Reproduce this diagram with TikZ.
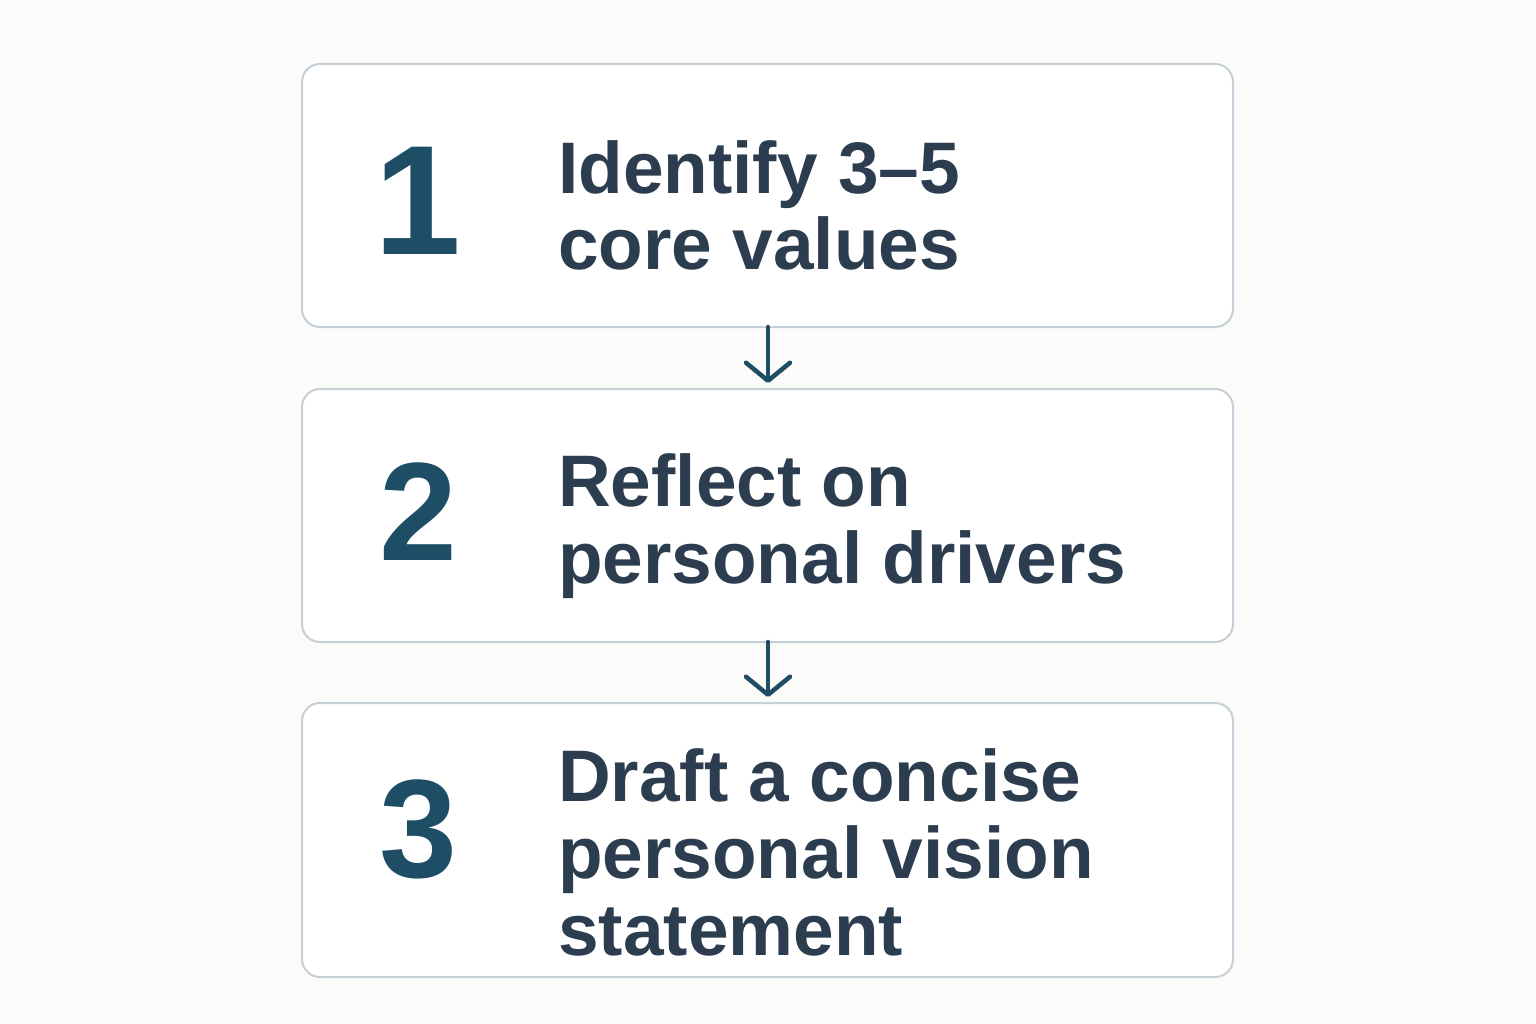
\documentclass[tikz,border=0pt]{standalone}
\usepackage{fontspec}
\setmainfont{Liberation Sans}
\usetikzlibrary{arrows.meta}
\definecolor{bgc}{HTML}{FBFBF9}
\definecolor{numc}{HTML}{1E4D66}
\definecolor{txtc}{HTML}{2B3D4F}
\definecolor{brdc}{HTML}{C5CFD8}
\tikzset{
  stepbox/.style={draw=brdc, line width=2pt, rounded corners=18pt, fill=white},
  numtxt/.style={text=numc, font=\bfseries\fontsize{140}{144}\selectfont, inner sep=0pt, anchor=base},
  steptxt/.style={text=txtc, font=\bfseries\fontsize{73}{77}\selectfont, inner sep=0pt, anchor=base west, align=left},
  flow/.style={draw=numc, line width=4.5pt, line cap=round, -{Straight Barb[length=18pt,width=44pt,line width=4.5pt,round]}}
}
\begin{document}
\begin{tikzpicture}[x=1pt,y=-1pt]
\fill[bgc] (0,0) rectangle (1536,1024);
\useasboundingbox (0,0) rectangle (1536,1024);
\draw[stepbox] (302,64) rectangle (1233,327);
\draw[stepbox] (302,389) rectangle (1233,642);
\draw[stepbox] (302,703) rectangle (1233,977);
\coordinate (b1s) at (768,327);
\coordinate (b2n) at (768,389);
\coordinate (b2s) at (768,642);
\coordinate (b3n) at (768,703);
\node[numtxt, font=\bfseries\fontsize{156}{160}\selectfont] (n1) at (418,255) {1};
\node[numtxt] (n2) at (418,560) {2};
\node[numtxt] (n3) at (418,877) {3};
\node[steptxt] (t1) at (558,270) {Identify 3–5\\core values};
\node[steptxt] (t2) at (558,583) {Reflect on\\personal drivers};
\node[steptxt] (t3) at (558,955) {Draft a concise\\personal vision\\statement};
\draw[flow] (b1s) -- ([yshift=6pt]b2n);
\draw[flow] (b2s) -- ([yshift=6pt]b3n);
\end{tikzpicture}
\end{document}
